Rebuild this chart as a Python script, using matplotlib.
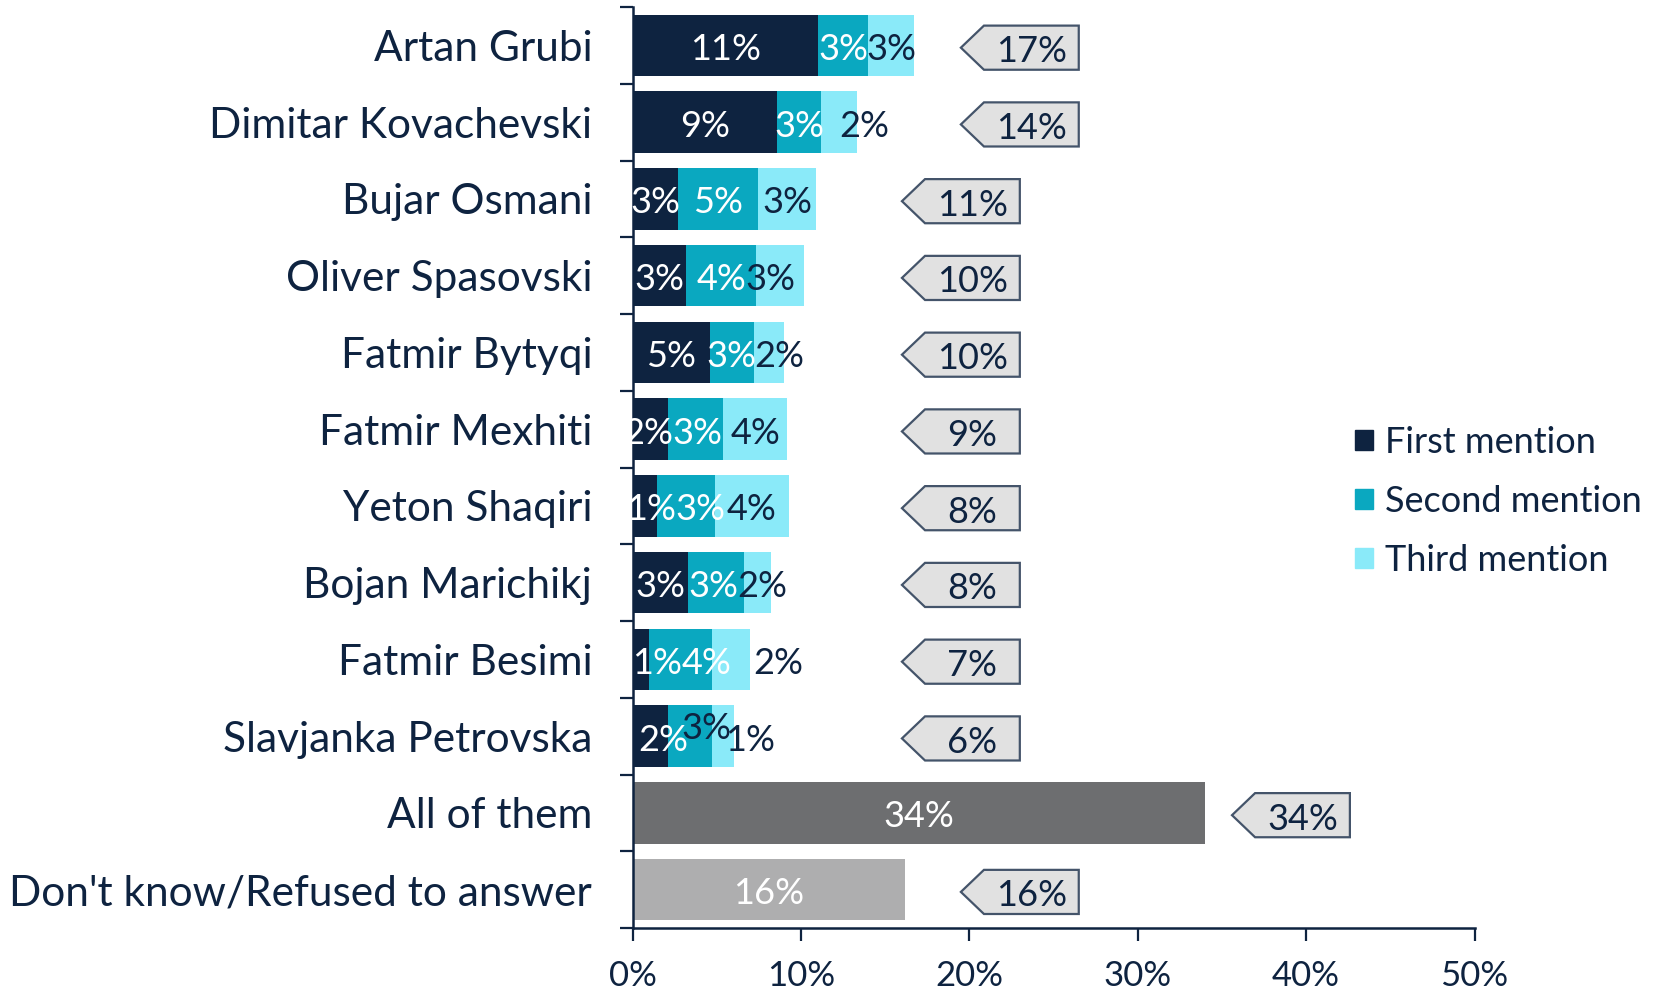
import matplotlib
matplotlib.use("Agg")
import matplotlib.pyplot as plt
from matplotlib.patches import Polygon, Patch
import numpy as np

# data (percent)
names = ["Artan Grubi", "Dimitar Kovachevski", "Bujar Osmani", "Oliver Spasovski",
         "Fatmir Bytyqi", "Fatmir Mexhiti", "Yeton Shaqiri", "Bojan Marichikj",
         "Fatmir Besimi", "Slavjanka Petrovska", "All of them",
         "Don't know/Refused to answer"]
first = [11.0, 8.6, 2.7, 3.2, 4.6, 2.1, 1.45, 3.3, 1.0, 2.1]
second = [3.0, 2.6, 4.75, 4.15, 2.6, 3.3, 3.45, 3.3, 3.7, 2.6]
third = [2.7, 2.15, 3.45, 2.85, 1.8, 3.8, 4.4, 1.65, 2.25, 1.3]
all_of_them = 34.0
dont_know = 16.2
totals = [17, 14, 11, 10, 10, 9, 8, 8, 7, 6, 34, 16]
series_names = ["First mention", "Second mention", "Third mention"]

navy = "#0E2340"
teal = "#0AA8C0"
cyan = "#8AEAF9"
gray = "#6D6E70"
lgray = "#AEAEAF"
font = "Lato"

fig = plt.figure(figsize=(16.67, 9.91), dpi=100)
W, H = 1667, 991
ax = fig.add_axes([632.5 / W, 1 - 928 / H, 842 / W, 921 / H])

y = np.arange(len(first))
bh = 0.8
b1 = ax.barh(y, first, height=bh, color=navy)
b2 = ax.barh(y, second, left=first, height=bh, color=teal)
left3 = np.array(first) + np.array(second)
b3 = ax.barh(y, third, left=left3, height=bh, color=cyan)
ax.barh([10], [all_of_them], height=bh, color=gray)
ax.barh([11], [dont_know], height=bh, color=lgray)

# segment labels, with a few nudges where Excel pushed them aside (px)
nudge = {(1, 2): (25, 0), (3, 2): (-10, 0), (4, 2): (10, 0),
         (5, 0): (-2, 0), (5, 1): (2, 0),
         (6, 0): (6, 0), (6, 1): (14, 0), (7, 1): (-2, 0), (7, 2): (5, 0),
         (8, 0): (16, 0), (8, 1): (26, 0), (8, 2): (48, 0),
         (9, 0): (13, 0), (9, 1): (17, 12), (9, 2): (27, 0)}
dark_override = {(9, 1)}
lab_fs = 26
for k, bars in enumerate([b1, b2, b3]):
    for i, r in enumerate(bars):
        cx = r.get_x() + r.get_width() / 2
        dx, dy = nudge.get((i, k), (0, 0))
        col = navy if (k == 2 or (i, k) in dark_override) else "white"
        ax.annotate(f"{r.get_width():.0f}%", (cx, i), xytext=(dx * 0.72, (dy - 4) * 0.72),
                    textcoords="offset points", ha="center", va="center",
                    fontsize=lab_fs, color=col, family=font)
ax.text(all_of_them / 2, 10.05, f"{all_of_them:.0f}%", ha="center", va="center",
        fontsize=lab_fs, color="white", family=font)
ax.text(dont_know / 2, 11.05, f"{dont_know:.0f}%", ha="center", va="center",
        fontsize=lab_fs, color="white", family=font)

# callouts with totals
tips = [19.5, 19.5, 16, 16, 16, 16, 16, 16, 16, 16, 35.6, 19.5]
cw, ct, ch = 7.0, 1.37, 0.575
for i, (t, tot) in enumerate(zip(tips, totals)):
    yc = i + 0.03
    poly = Polygon([(t, yc), (t + ct, yc - ch / 2), (t + cw, yc - ch / 2),
                    (t + cw, yc + ch / 2), (t + ct, yc + ch / 2)], closed=True,
                   facecolor="#E1E1E1", edgecolor="#44546A", lw=1.6, clip_on=False)
    ax.add_patch(poly)
    ax.text(t + ct + (cw - ct) / 2, yc + 0.05, f"{tot}%", ha="center", va="center",
            fontsize=lab_fs, color=navy, family=font)

ax.set_xlim(0, 50)
ax.set_ylim(11.5, -0.5)
ax.set_xticks(np.arange(0, 51, 10))
ax.set_xticklabels([f"{v}%" for v in range(0, 51, 10)], fontsize=25, color=navy, family=font)
ax.set_yticks(np.arange(len(names)))
ax.set_yticklabels(names, fontsize=30.5, color=navy, family=font)
ax.set_yticks(np.arange(-0.5, 12, 1), minor=True)
ax.tick_params(axis="y", which="major", length=0, pad=29)
ax.tick_params(axis="y", which="minor", length=9.5, width=1.6, color=navy)
ax.tick_params(axis="x", length=9, width=1.6, color=navy, pad=14)
for s in ["top", "right"]:
    ax.spines[s].set_visible(False)
for s in ["left", "bottom"]:
    ax.spines[s].set_color(navy)
    ax.spines[s].set_linewidth(1.8)

handles = [Patch(color=c) for c in [navy, teal, cyan]]
fig.legend(handles, series_names, loc="upper left", bbox_to_anchor=(1355 / W, 1 - 426 / H),
           frameon=False, handlelength=0.5, handleheight=0.5,
           handletextpad=0.33, labelspacing=0.72, borderpad=0, borderaxespad=0,
           prop={"family": font, "size": 26}, labelcolor=navy)

fig.savefig("out.png", dpi=100)
